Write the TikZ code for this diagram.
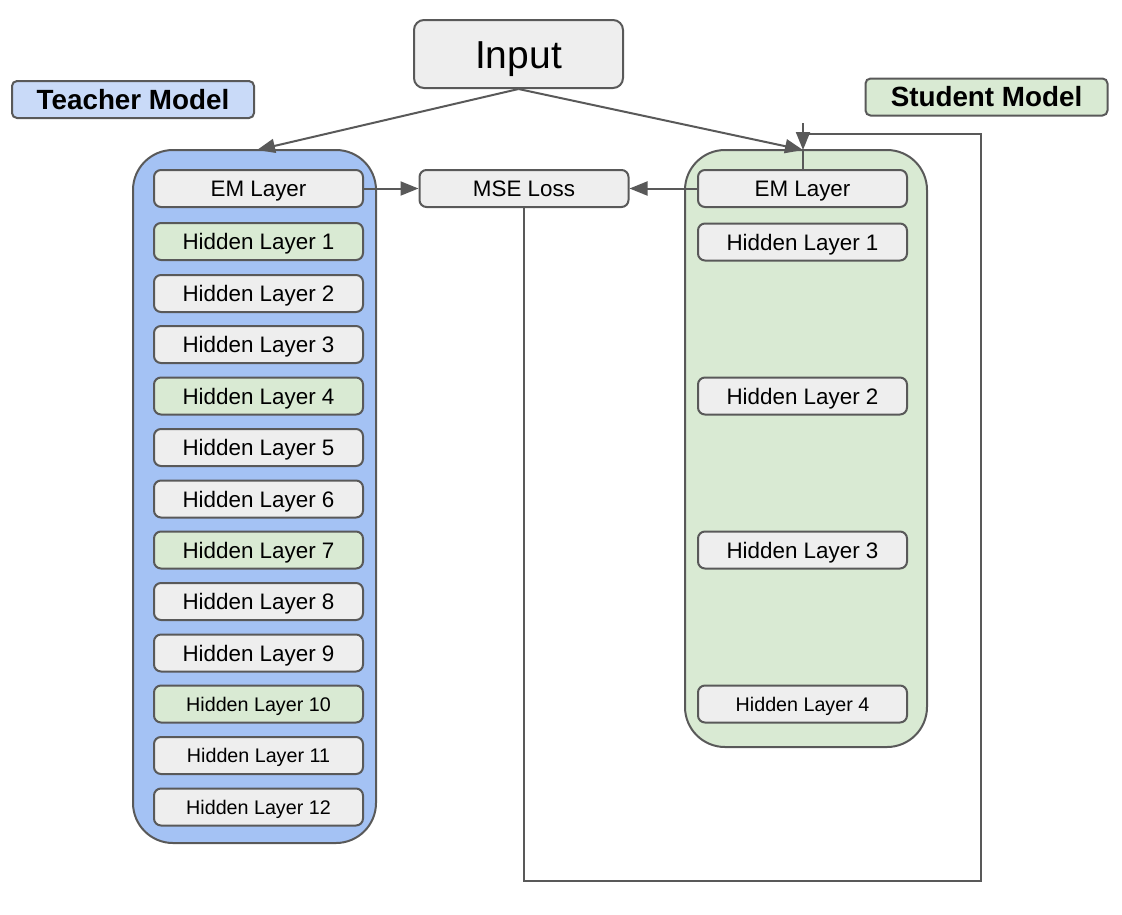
\documentclass[tikz,border=0pt]{standalone}
\usepackage{fontspec}
\setmainfont{Liberation Sans}
\usetikzlibrary{arrows.meta,calc}
\definecolor{lgray}{HTML}{EEEEEE}
\definecolor{lgreen}{HTML}{D9EAD3}
\definecolor{lblue}{HTML}{C9DAF8}
\definecolor{mblue}{HTML}{A4C2F4}
\definecolor{edge}{HTML}{595959}
\begin{document}
\begin{tikzpicture}[x=1pt,y=-1pt,
  box/.style={draw=edge,line width=2pt,rounded corners=7pt,fill=lgray,inner sep=0pt,text depth=0pt},
  layer/.style={box,minimum width=209pt,minimum height=37pt,font=\fontsize{22.4}{24}\selectfont,text height=16pt},
  slayer/.style={layer,font=\fontsize{19.7}{22}\selectfont,text height=14.1pt},
  glayer/.style={layer,fill=lgreen},
  gslayer/.style={slayer,fill=lgreen},
  container/.style={draw=edge,line width=2pt,rounded corners=40pt},
  label/.style={box,rounded corners=5pt,font=\bfseries\fontsize{27.8}{30}\selectfont,text height=19.9pt,minimum width=242pt,minimum height=37pt},
  conn/.style={draw=edge,line width=2pt},
  arr/.style={conn,-{Triangle[length=18pt,width=14pt]}}
]
\useasboundingbox (0,0) rectangle (1122,914);
% containers
\draw[container,fill=mblue] (133,150) rectangle (376,843);
\draw[container,fill=lgreen] (685,150) rectangle (927,747);
\coordinate (tTop) at (257,150);
\coordinate (sTop) at (803,150);
% labels
\node[label,fill=lblue] (tlab) at (133,99.5) {Teacher Model};
\node[label,fill=lgreen] (slab) at (986.5,97) {Student Model};
% input
\node[box,minimum width=209pt,minimum height=68pt,rounded corners=10pt,font=\fontsize{39}{42}\selectfont,text height=28pt] (inp) at (518.5,54) {Input};
% teacher layers
\node[layer] (tem) at (258.5,188.5) {EM Layer};
\node[glayer] (t1) at (258.5,241.5) {Hidden Layer 1};
\node[layer] (t2) at (258.5,293.5) {Hidden Layer 2};
\node[layer] (t3) at (258.5,344.5) {Hidden Layer 3};
\node[glayer] (t4) at (258.5,396) {Hidden Layer 4};
\node[layer] (t5) at (258.5,447.5) {Hidden Layer 5};
\node[layer] (t6) at (258.5,499) {Hidden Layer 6};
\node[glayer] (t7) at (258.5,550) {Hidden Layer 7};
\node[layer] (t8) at (258.5,601.5) {Hidden Layer 8};
\node[layer] (t9) at (258.5,653) {Hidden Layer 9};
\node[gslayer] (t10) at (258.5,704) {Hidden Layer 10};
\node[slayer] (t11) at (258.5,755.5) {Hidden Layer 11};
\node[slayer] (t12) at (258.5,807) {Hidden Layer 12};
% student layers
\node[layer] (sem) at (802.5,188.5) {EM Layer};
\node[layer] (s1) at (802.5,242) {Hidden Layer 1};
\node[layer] (s2) at (802.5,396) {Hidden Layer 2};
\node[layer] (s3) at (802.5,550) {Hidden Layer 3};
\node[slayer] (s4) at (802.5,704) {Hidden Layer 4};
% MSE
\node[layer] (mse) at (524,188.5) {MSE Loss};
% connectors
\draw[arr] (inp.south) -- (tTop);
\draw[arr] (inp.south) -- (sTop);
\draw[arr] (tem.east) -- (mse.west);
\draw[arr] (sem.west) -- (mse.east);
\coordinate (lb1) at (524,881);
\coordinate (lb2) at (981,881);
\coordinate (lb3) at (981,134);
\coordinate (lb4) at (803,134);
\coordinate (stub) at (803,123);
\draw[conn] (mse.south) -- (lb1) -- (lb2) -- (lb3) -- (lb4);
\draw[arr] (stub) -- (sTop);
\draw[conn] (sTop) -- (sem.north -| sTop);
\end{tikzpicture}
\end{document}
